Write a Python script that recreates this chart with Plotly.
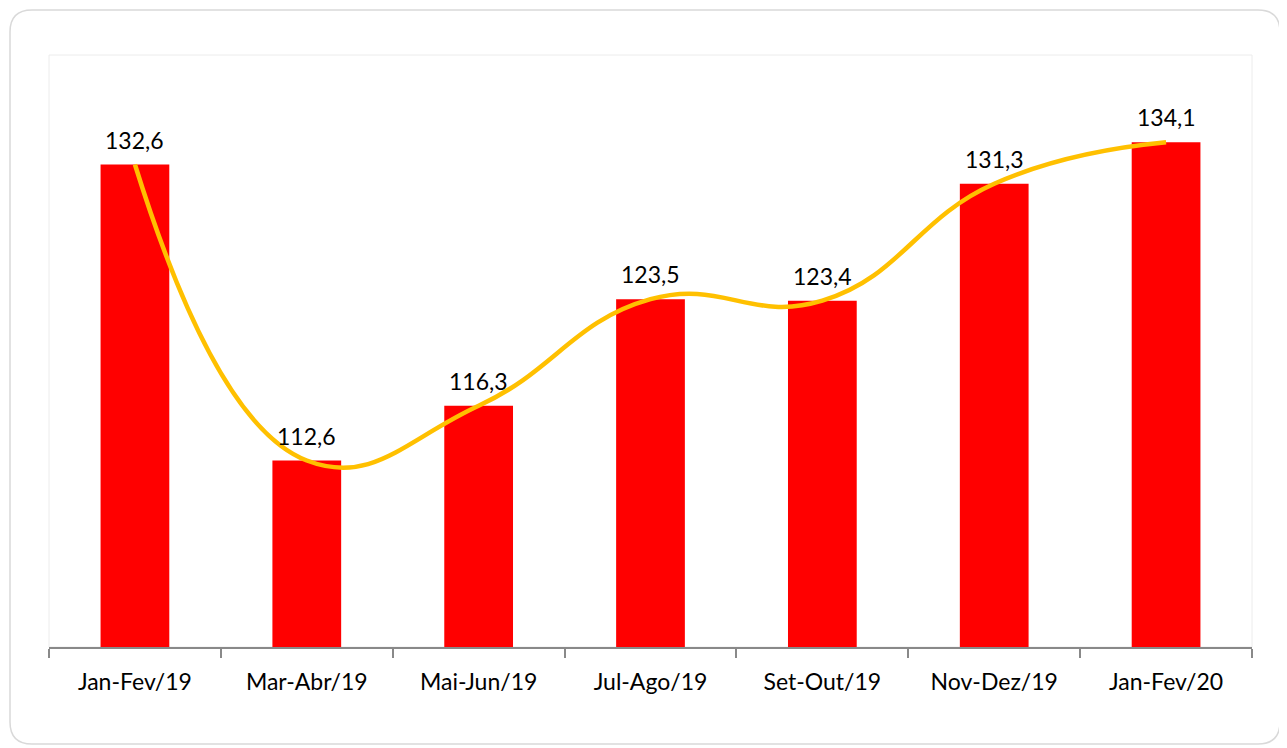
import plotly.graph_objects as go

categories = ["Jan-Fev/19", "Mar-Abr/19", "Mai-Jun/19", "Jul-Ago/19", "Set-Out/19", "Nov-Dez/19", "Jan-Fev/20"]
values = [132.6, 112.6, 116.3, 123.5, 123.4, 131.3, 134.1]

W, H = 1287, 748
OFF = 8  # page body margin
L, T, R, B = 49 - OFF, 55 - OFF, W - (1252 - OFF), H - (647 - OFF)
PW, PH = W - L - R, H - T - B

fig = go.Figure()
fig.add_trace(go.Bar(x=categories, y=values, marker=dict(color="#FF0000", line=dict(width=0)),
                     width=0.4, hoverinfo="skip"))
fig.add_trace(go.Scatter(x=categories, y=values, mode="lines",
                         line=dict(color="#FFC000", width=4.5, shape="spline", smoothing=1.3),
                         hoverinfo="skip"))

for c, v in zip(categories, values):
    fig.add_annotation(x=c, y=v, text=f"{v:.1f}".replace(".", ","), showarrow=False,
                       yanchor="bottom", yshift=9, font=dict(size=23, color="#000000"))

# outer card with rounded corners (pixel -> paper coordinates)
def px(x):
    return (x - OFF - L) / PW

def py(y):
    return (H - B - (y - OFF)) / PH

cx0, cy0, cx1, cy1, r = 10, 10, 1280, 744, 22
path = (f"M {px(cx0+r)},{py(cy0)} L {px(cx1-r)},{py(cy0)} Q {px(cx1)},{py(cy0)} {px(cx1)},{py(cy0+r)} "
        f"L {px(cx1)},{py(cy1-r)} Q {px(cx1)},{py(cy1)} {px(cx1-r)},{py(cy1)} "
        f"L {px(cx0+r)},{py(cy1)} Q {px(cx0)},{py(cy1)} {px(cx0)},{py(cy1-r)} "
        f"L {px(cx0)},{py(cy0+r)} Q {px(cx0)},{py(cy0)} {px(cx0+r)},{py(cy0)} Z")
fig.add_shape(type="path", path=path, xref="paper", yref="paper",
              line=dict(color="#d9d9d9", width=1.5), layer="below")
fig.add_shape(type="rect", xref="x domain", yref="y domain", x0=0, x1=1, y0=0, y1=1,
              line=dict(color="#ececec", width=1), layer="below")

fig.update_layout(
    width=W, height=H,
    margin=dict(l=L, r=R, t=T, b=B),
    paper_bgcolor="white", plot_bgcolor="white",
    showlegend=False,
    font=dict(family="Lato, Open Sans, sans-serif", size=23, color="#000000"),
    bargap=0.6,
)
fig.update_xaxes(showline=True, linecolor="#898989", linewidth=2, ticks="outside",
                 tickson="boundaries", ticklen=9, tickcolor="#898989", tickwidth=2,
                 showgrid=False, tickfont=dict(size=23), ticklabelstandoff=13)
fig.update_yaxes(range=[100, 140], visible=False, showgrid=False, zeroline=False)

fig.write_html("out.html")
